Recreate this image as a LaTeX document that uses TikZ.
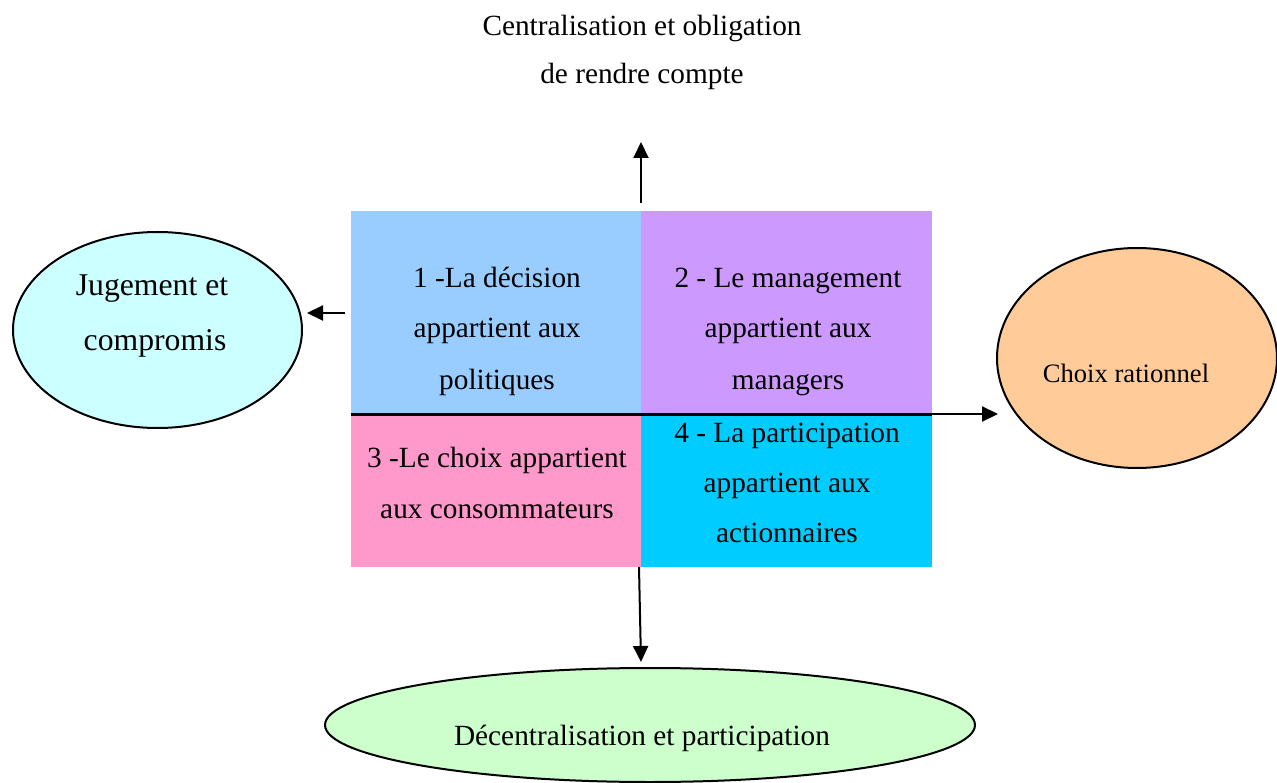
\documentclass[tikz,border=0pt]{standalone}
\usepackage{fontspec}
\setmainfont{Liberation Serif}
\usetikzlibrary{shapes.geometric,arrows.meta}

\definecolor{cellA}{HTML}{99CCFF}
\definecolor{cellB}{HTML}{CC99FF}
\definecolor{cellC}{HTML}{FF99CC}
\definecolor{cellD}{HTML}{00CCFF}
\definecolor{bubA}{HTML}{CCFFFF}
\definecolor{bubB}{HTML}{FFCC99}
\definecolor{bubC}{HTML}{CCFFCC}

\tikzset{
  cell/.style={rectangle, inner sep=0pt, outer sep=0pt, anchor=north west},
  txt/.style={anchor=base, inner sep=0pt, font=\fontsize{29.3}{35}\selectfont},
  bigtxt/.style={anchor=base, inner sep=0pt, font=\fontsize{31.7}{38}\selectfont},
  smalltxt/.style={anchor=base, inner sep=0pt, font=\fontsize{26.6}{32}\selectfont},
  bubble/.style={ellipse, draw=black, line width=2pt, inner sep=0pt},
  arr/.style={-{Triangle[length=16pt,width=15pt]}, line width=2pt},
  divider/.style={line width=3pt}
}

\begin{document}
\begin{tikzpicture}[x=1pt,y=-1pt]
\useasboundingbox (0,0) rectangle (1277,783);

% four quadrants
\node[cell, fill=cellA, minimum width=290pt, minimum height=203pt] (b1) at (351,211) {};
\node[cell, fill=cellB, minimum width=291pt, minimum height=203pt] (b2) at (641,211) {};
\node[cell, fill=cellC, minimum width=290pt, minimum height=153pt] (b3) at (351,414) {};
\node[cell, fill=cellD, minimum width=291pt, minimum height=153pt] (b4) at (641,414) {};
\draw[divider] (b3.north west) -- (b4.north east);

% quadrant texts
\node[txt] (t1a) at (497,288) {1 -La décision};
\node[txt] (t1b) at (497,338) {appartient aux};
\node[txt] (t1c) at (497,389) {politiques};
\node[txt] (t2a) at (788,288) {2 - Le management};
\node[txt] (t2b) at (788,338) {appartient aux};
\node[txt] (t2c) at (788,389) {managers};
\node[txt] (t3a) at (497,467) {3 -Le choix appartient};
\node[txt] (t3b) at (497,518) {aux consommateurs};
\node[txt] (t4a) at (787,442) {4 - La participation};
\node[txt] (t4b) at (787,492) {appartient aux};
\node[txt] (t4c) at (787,542) {actionnaires};

% ellipses
\node[bubble, fill=bubA, minimum width=289pt, minimum height=196pt] (eleft) at (157.5,330) {};
\node[bubble, fill=bubB, minimum width=280pt, minimum height=220pt] (eright) at (1137,358) {};
\node[bubble, fill=bubC, minimum width=650pt, minimum height=114pt] (ebottom) at (650,725) {};

\node[bigtxt] (jl1) at (152,296) {Jugement et};
\node[bigtxt] (jl2) at (155,351) {compromis};
\node[smalltxt] (cr) at (1126,383) {Choix rationnel};
\node[txt] (dp) at (642,745) {Décentralisation et participation};

% heading above
\node[txt] (h1) at (642,36) {Centralisation et obligation};
\node[txt] (h2) at (642,84) {de rendre compte};

% arrows
\coordinate (upfrom) at (641,203);
\coordinate (uptip) at (641,142);
\coordinate (leftfrom) at (345,313);
\coordinate (lefttip) at (307,313);
\coordinate (rightfrom) at (925,414);
\coordinate (righttip) at (998,414);
\coordinate (downfrom) at (639,567);
\coordinate (downtip) at (641,662);
\draw[arr] (upfrom) -- (uptip);
\draw[arr] (leftfrom) -- (lefttip);
\draw[arr] (rightfrom) -- (righttip);
\draw[arr] (downfrom) -- (downtip);
\end{tikzpicture}
\end{document}
